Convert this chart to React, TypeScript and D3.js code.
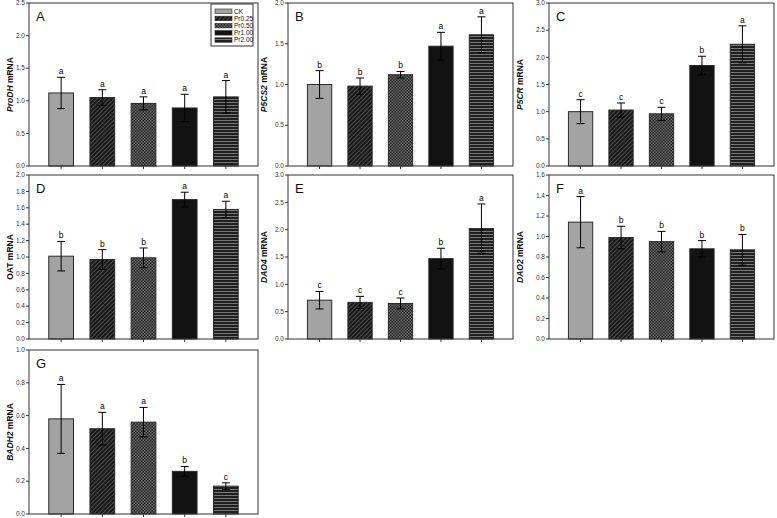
import React from "react";
import * as d3 from "d3";

const categories = ["CK", "Pr0.25", "Pr0.50", "Pr1.00", "Pr2.00"];

const prodhMeans = [1.12, 1.05, 0.96, 0.89, 1.06];
const prodhErrs = [0.24, 0.12, 0.10, 0.21, 0.25];
const prodhLetters = ["a", "a", "a", "a", "a"];

const p5cs2Means = [1.0, 0.98, 1.12, 1.47, 1.61];
const p5cs2Errs = [0.17, 0.1, 0.04, 0.17, 0.22];
const p5cs2Letters = ["b", "b", "b", "a", "a"];

const p5crMeans = [1.0, 1.03, 0.96, 1.85, 2.24];
const p5crErrs = [0.22, 0.13, 0.12, 0.17, 0.34];
const p5crLetters = ["c", "c", "c", "b", "a"];

const oatMeans = [1.01, 0.97, 0.99, 1.7, 1.58];
const oatErrs = [0.18, 0.12, 0.12, 0.09, 0.1];
const oatLetters = ["b", "b", "b", "a", "a"];

const dao4Means = [0.71, 0.67, 0.65, 1.47, 2.02];
const dao4Errs = [0.16, 0.11, 0.1, 0.19, 0.45];
const dao4Letters = ["c", "c", "c", "b", "a"];

const dao2Means = [1.14, 0.99, 0.95, 0.88, 0.87];
const dao2Errs = [0.25, 0.11, 0.1, 0.08, 0.15];
const dao2Letters = ["a", "b", "b", "b", "b"];

const badh2Means = [0.58, 0.52, 0.56, 0.26, 0.17];
const badh2Errs = [0.21, 0.1, 0.09, 0.03, 0.02];
const badh2Letters = ["a", "a", "a", "b", "c"];

const panelIds = ["A", "B", "C", "D", "E", "F", "G"];
const geneNames = ["ProDH", "P5CS2", "P5CR", "OAT", "DAO4", "DAO2", "BADH2"];
const geneItalic = [true, true, true, false, true, true, true];
const yMaxes = [2.5, 2.0, 3.0, 2.0, 3.0, 1.6, 1.0];
const yTickSteps = [0.5, 0.5, 0.5, 0.2, 0.5, 0.2, 0.2];
const allMeans = [prodhMeans, p5cs2Means, p5crMeans, oatMeans, dao4Means, dao2Means, badh2Means];
const allErrs = [prodhErrs, p5cs2Errs, p5crErrs, oatErrs, dao4Errs, dao2Errs, badh2Errs];
const allLetters = [prodhLetters, p5cs2Letters, p5crLetters, oatLetters, dao4Letters, dao2Letters, badh2Letters];

// layout
const frames = [
  { x0: 29, x1: 258, y0: 3, y1: 166, labelX: 13 },
  { x0: 288, x1: 513, y0: 3, y1: 166, labelX: 267 },
  { x0: 549, x1: 774, y0: 3, y1: 166, labelX: 523 },
  { x0: 29, x1: 258, y0: 175, y1: 339, labelX: 13 },
  { x0: 288, x1: 513, y0: 175, y1: 339, labelX: 267 },
  { x0: 549, x1: 774, y0: 175, y1: 339, labelX: 523 },
  { x0: 29, x1: 258, y0: 350, y1: 514, labelX: 13 },
];

const fills = ["#a3a3a3", "url(#pHatch)", "url(#pCheck)", "#121212", "url(#pHoriz)"];
const FONT = "'Liberation Sans', Arial, sans-serif";

function Panel({ i }: { i: number }) {
  const f = frames[i];
  const means = allMeans[i];
  const errs = allErrs[i];
  const letters = allLetters[i];
  const y = d3.scaleLinear().domain([0, yMaxes[i]]).range([f.y1, f.y0]);
  const x = d3.scalePoint<string>().domain(categories).range([f.x0, f.x1]).padding(0.78);
  const step = x.step();
  const bw = step * 0.6;
  const nT = Math.round(yMaxes[i] / yTickSteps[i]);
  const ticks = d3.range(nT + 1).map((k) => +(k * yTickSteps[i]).toFixed(2));
  const fmt = d3.format(".1f");
  const cy = (f.y0 + f.y1) / 2;
  return (
    <g>
      {categories.map((c, k) => {
        const cx = x(c)!;
        return (
          <rect
            key={c}
            x={cx - bw / 2}
            y={y(means[k])}
            width={bw}
            height={f.y1 - y(means[k])}
            fill={fills[k]}
            stroke="#2a2a2a"
            strokeWidth={1}
          />
        );
      })}
      {categories.map((c, k) => {
        const cx = x(c)!;
        const top = y(means[k] + errs[k]);
        const bot = y(means[k] - errs[k]);
        return (
          <g key={"e" + c} stroke="#000" strokeWidth={1}>
            <line x1={cx} x2={cx} y1={top} y2={bot} />
            <line x1={cx - 4} x2={cx + 4} y1={top} y2={top} />
            <line x1={cx - 4} x2={cx + 4} y1={bot} y2={bot} />
          </g>
        );
      })}
      {categories.map((c, k) => (
        <text
          key={"l" + c}
          x={x(c)!}
          y={y(means[k] + errs[k]) - 3}
          textAnchor="middle"
          fontSize={8.5}
          fontFamily={FONT}
          fill="#000"
        >
          {letters[k]}
        </text>
      ))}
      <rect x={f.x0} y={f.y0} width={f.x1 - f.x0} height={f.y1 - f.y0} fill="none" stroke="#333" strokeWidth={1} />
      {ticks.map((t) => (
        <g key={"t" + t}>
          <line x1={f.x0 - 3} x2={f.x0} y1={y(t)} y2={y(t)} stroke="#333" />
          <text x={f.x0 - 4} y={y(t) + 2.2} textAnchor="end" fontSize={6.5} fontFamily={FONT} fill="#333">
            {fmt(t)}
          </text>
        </g>
      ))}
      {categories.map((c) => (
        <line key={"x" + c} x1={x(c)!} x2={x(c)!} y1={f.y1} y2={f.y1 + 3} stroke="#333" />
      ))}
      <text x={f.x0 + 7} y={f.y0 + 18} fontSize={13} fontFamily={FONT} fill="#111">
        {panelIds[i]}
      </text>
      <text
        transform={`translate(${f.labelX},${cy}) rotate(-90)`}
        textAnchor="middle"
        fontSize={8.5}
        fontWeight="bold"
        fontFamily={FONT}
        fill="#111"
      >
        <tspan fontStyle={geneItalic[i] ? "italic" : "normal"}>{geneNames[i]}</tspan>
        <tspan> mRNA</tspan>
      </text>
    </g>
  );
}

function Legend() {
  const lx = 211;
  const ly = 4;
  return (
    <g>
      <rect x={lx} y={ly} width={42} height={42} fill="#fff" stroke="#333" strokeWidth={1} />
      {categories.map((c, k) => (
        <g key={c}>
          <rect x={lx + 4} y={ly + 5 + k * 7.2} width={17} height={4.5} fill={fills[k]} stroke="#2a2a2a" strokeWidth={0.6} />
          <text x={lx + 23} y={ly + 9.5 + k * 7.2} fontSize={6.5} fontFamily={FONT} fill="#111">
            {c}
          </text>
        </g>
      ))}
    </g>
  );
}

export default function App() {
  return (
    <svg
      width={777}
      height={518}
      style={{ position: "absolute", left: 0, top: 0, background: "#fff" }}
    >
      <defs>
        <pattern id="pHatch" width={3} height={3} patternUnits="userSpaceOnUse" patternTransform="rotate(45)">
          <rect width={3} height={3} fill="#181818" />
          <line x1={0.5} y1={0} x2={0.5} y2={3} stroke="#4e4e4e" strokeWidth={1} />
        </pattern>
        <pattern id="pCheck" width={3} height={3} patternUnits="userSpaceOnUse">
          <rect width={3} height={3} fill="#222" />
          <rect x={0} y={0} width={1.5} height={1.5} fill="#6e6e6e" />
          <rect x={1.5} y={1.5} width={1.5} height={1.5} fill="#6e6e6e" />
        </pattern>
        <pattern id="pHoriz" width={4} height={3} patternUnits="userSpaceOnUse">
          <rect width={4} height={3} fill="#202020" />
          <rect x={0} y={0} width={4} height={1} fill="#777" />
        </pattern>
      </defs>
      <rect width={777} height={518} fill="#fff" />
      {panelIds.map((_, i) => (
        <Panel key={i} i={i} />
      ))}
      <Legend />
    </svg>
  );
}
